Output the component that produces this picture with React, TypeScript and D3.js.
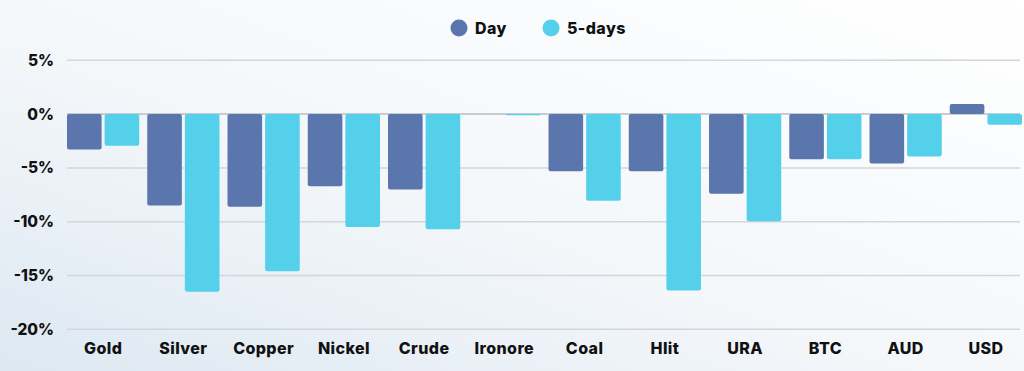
import React, { useEffect, useRef } from "react";
import * as d3 from "d3";

const categories = ["Gold", "Silver", "Copper", "Nickel", "Crude", "Ironore", "Coal", "Hlit", "URA", "BTC", "AUD", "USD"];
const dayValues = [-3.3, -8.5, -8.6, -6.7, -7.0, 0, -5.3, -5.3, -7.4, -4.2, -4.6, 0.95];
const fiveDayValues = [-2.95, -16.5, -14.6, -10.5, -10.7, -0.1, -8.05, -16.4, -9.95, -4.2, -3.95, -1.0];
const seriesNames = ["Day", "5-days"];
const seriesColors = ["#5a76ad", "#54d0eb"];
const yTicks = [5, 0, -5, -10, -15, -20];

const W = 1024;
const H = 371;
const FONT = "Inter, 'DejaVu Sans', sans-serif";

export default function App() {
  const ref = useRef<SVGSVGElement | null>(null);

  useEffect(() => {
    const svg = d3.select(ref.current);
    svg.selectAll("*").remove();

    // background gradient
    const defs = svg.append("defs");
    const grad = defs
      .append("linearGradient")
      .attr("id", "bg")
      .attr("x1", "0%")
      .attr("y1", "100%")
      .attr("x2", "100%")
      .attr("y2", "0%");
    grad.append("stop").attr("offset", "0%").attr("stop-color", "#dde8f2");
    grad.append("stop").attr("offset", "45%").attr("stop-color", "#f4f7fa");
    grad.append("stop").attr("offset", "100%").attr("stop-color", "#ffffff");
    svg.append("rect").attr("width", W).attr("height", H).attr("fill", "url(#bg)");

    const x0 = d3.scaleBand().domain(categories).range([67, 1022]).paddingInner(0.1).paddingOuter(0);
    const x1 = d3.scaleBand().domain(seriesNames).range([0, x0.bandwidth()]).paddingInner(0.08).paddingOuter(0);
    const y = d3.scaleLinear().domain([-20, 5]).range([329.3, 60.3]);

    // gridlines
    svg
      .append("g")
      .selectAll("line")
      .data(yTicks)
      .enter()
      .append("line")
      .attr("x1", 67)
      .attr("x2", 1020)
      .attr("y1", (d) => y(d))
      .attr("y2", (d) => y(d))
      .attr("stroke", (d) => (d === 0 ? "#b9bcc2" : "#d3d6db"))
      .attr("stroke-width", 1.5);

    // y labels
    svg
      .append("g")
      .selectAll("text")
      .data(yTicks)
      .enter()
      .append("text")
      .attr("x", 54)
      .attr("y", (d) => y(d))
      .attr("dy", "0.35em")
      .attr("text-anchor", "end")
      .attr("font-family", FONT)
      .attr("font-weight", 800)
      .attr("font-size", 15.5)
      .attr("fill", "#111")
      .text((d) => d + "%");

    // bars
    const rows = categories.map((c, i) => ({ c, vals: [dayValues[i], fiveDayValues[i]] }));
    const groups = svg
      .append("g")
      .selectAll("g")
      .data(rows)
      .enter()
      .append("g")
      .attr("transform", (d) => `translate(${x0(d.c)},0)`);

    groups
      .selectAll("rect")
      .data((d) => d.vals.map((v, k) => ({ v, k })))
      .enter()
      .append("rect")
      .attr("x", (d) => x1(seriesNames[d.k]) as number)
      .attr("width", x1.bandwidth())
      .attr("y", (d) => Math.min(y(d.v), y(0)))
      .attr("height", (d) => Math.max(Math.abs(y(d.v) - y(0)), d.v === 0 ? 0 : 1))
      .attr("rx", 2)
      .attr("fill", (d) => seriesColors[d.k]);

    // x labels
    svg
      .append("g")
      .selectAll("text")
      .data(categories)
      .enter()
      .append("text")
      .attr("x", (d) => (x0(d) as number) + x0.bandwidth() / 2)
      .attr("y", 354)
      .attr("text-anchor", "middle")
      .attr("font-family", FONT)
      .attr("font-weight", 800)
      .attr("font-size", 16)
      .attr("letter-spacing", 0.4)
      .attr("fill", "#111")
      .text((d) => d);

    // legend
    const legendX = [459, 551];
    const legend = svg
      .append("g")
      .selectAll("g")
      .data(seriesNames)
      .enter()
      .append("g")
      .attr("transform", (d, i) => `translate(${legendX[i]},28)`);
    legend
      .append("circle")
      .attr("r", 8.5)
      .attr("fill", (d, i) => seriesColors[i]);
    legend
      .append("text")
      .attr("x", 16)
      .attr("dy", "0.35em")
      .attr("font-family", FONT)
      .attr("font-weight", 800)
      .attr("font-size", 16)
      .attr("letter-spacing", 0.4)
      .attr("fill", "#111")
      .text((d) => d);
  }, []);

  return (
    <svg
      ref={ref}
      width={W}
      height={H}
      style={{ position: "absolute", left: 0, top: 0, display: "block" }}
    />
  );
}
